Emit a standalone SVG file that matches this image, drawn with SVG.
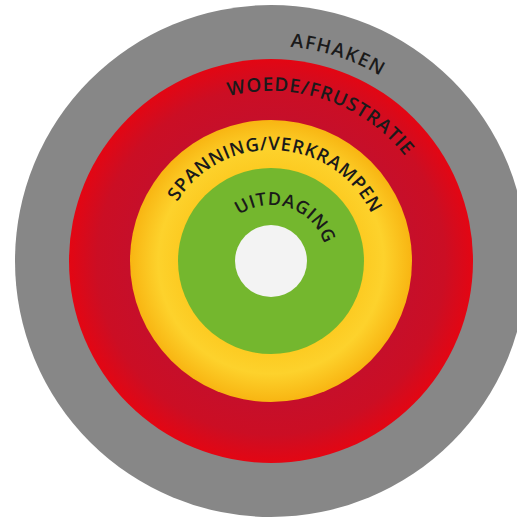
<svg xmlns="http://www.w3.org/2000/svg" width="517" height="520" viewBox="0 0 517 520">
<style>
.lbl{font-family:"Open Sans","Noto Sans","Liberation Sans",sans-serif;font-weight:600;fill:#1a1a1a;text-anchor:middle}
</style>
<defs>
<radialGradient id="gRed" gradientUnits="userSpaceOnUse" cx="271" cy="261" r="202">
<stop offset="0.70" stop-color="#C60F2A"/>
<stop offset="0.86" stop-color="#CB0E24"/>
<stop offset="1" stop-color="#E30613"/>
</radialGradient>
<radialGradient id="gYel" gradientUnits="userSpaceOnUse" cx="271" cy="261" r="141">
<stop offset="0.66" stop-color="#FCCB22"/>
<stop offset="0.80" stop-color="#FDD22C"/>
<stop offset="1" stop-color="#F8B512"/>
</radialGradient>
<path id="pA" d="M 56,261 A 215 215 0 0 1 486,261"/>
<path id="pW" d="M 101,261 A 170 170 0 0 1 441,261"/>
<path id="pS" d="M 160,261 A 111 111 0 0 1 382,261"/>
<path id="pU" d="M 215,261 A 56 56 0 0 1 327,261"/>
</defs>
<g id="afhaken">
<circle cx="271" cy="261" r="256" fill="#878787"/>
<text class="lbl" font-size="19" letter-spacing="1.3"><textPath href="#pA" startOffset="60%">AFHAKEN</textPath></text>
</g>
<g id="woede">
<circle cx="271" cy="261" r="202" fill="url(#gRed)"/>
<text class="lbl" font-size="19" letter-spacing="0.8"><textPath href="#pW" startOffset="60.5%">WOEDE/FRUSTRATIE</textPath></text>
</g>
<g id="spanning">
<circle cx="271" cy="261" r="141" fill="url(#gYel)"/>
<text class="lbl" font-size="18.5" letter-spacing="0.6"><textPath href="#pS" startOffset="52%">SPANNING/VERKRAMPEN</textPath></text>
</g>
<g id="uitdaging">
<circle cx="271" cy="261" r="93" fill="#74B72E"/>
<text class="lbl" font-size="18" letter-spacing="0.6"><textPath href="#pU" startOffset="60.5%">UITDAGING</textPath></text>
</g>
<g id="center">
<circle cx="271" cy="261" r="36" fill="#F3F3F3"/>
</g>
</svg>
